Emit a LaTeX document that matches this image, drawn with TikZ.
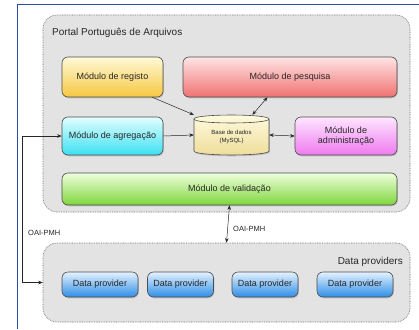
\documentclass[tikz,border=0pt]{standalone}
\usepackage{fontspec}
\setmainfont{Liberation Sans}
\usetikzlibrary{arrows.meta,shadows}
\definecolor{grpfill}{HTML}{E3E3E3}
\definecolor{frameblue}{HTML}{2A4CA8}
\definecolor{regtop}{HTML}{FFF9D8}
\definecolor{regbot}{HTML}{F6C840}
\definecolor{pestop}{HTML}{FFE4E4}
\definecolor{pesbot}{HTML}{F07272}
\definecolor{agrtop}{HTML}{E2FFFF}
\definecolor{agrbot}{HTML}{3CE0F2}
\definecolor{admtop}{HTML}{FFE6FF}
\definecolor{admbot}{HTML}{EE7AEE}
\definecolor{valtop}{HTML}{EEFFDC}
\definecolor{valbot}{HTML}{7ED63C}
\definecolor{dptop}{HTML}{E4F2FF}
\definecolor{dpbot}{HTML}{2E8EE6}
\definecolor{dbtop}{HTML}{FFFBE0}
\definecolor{dbbot}{HTML}{EEDC98}
\begin{document}
\begin{tikzpicture}[x=1pt,y=-1pt,
  font=\fontsize{9}{10.5}\selectfont,
  grp/.style={draw=black!55, dash pattern=on 0.8pt off 0.9pt, line width=0.6pt, fill=grpfill, rounded corners=14pt, inner sep=0pt},
  mod/.style={draw=black!70, line width=0.6pt, rounded corners=6pt, align=center, inner sep=0pt,
    text=black!85, drop shadow={shadow xshift=0.8pt, shadow yshift=-1.3pt, opacity=0.35}},
  arr/.style={-{Stealth[length=4.5pt,width=3.6pt]}, line width=0.5pt, black!85},
  darr/.style={{Stealth[length=4.5pt,width=3.6pt]}-{Stealth[length=4.5pt,width=3.6pt]}, line width=0.5pt, black!85},
  lbl/.style={font=\fontsize{7.5}{9}\selectfont, inner sep=0pt, text=black!85}]
\useasboundingbox[fill=white] (0,0) rectangle (419,329);
% blue frame
\draw[frameblue, line width=1.4pt] (419,4.5) -- (17.5,4.5) -- (17.5,329);
% groups
\node[grp, minimum width=367pt, minimum height=197pt] (ppa) at (226.5,113.5) {};
\node[anchor=west, inner sep=0pt, font=\fontsize{10}{12}\selectfont, text=black!85] (ppat) at (52,33) {Portal Português de Arquivos};
\node[grp, minimum width=367pt, minimum height=79pt] (dpg) at (226.5,282.5) {};
\node[anchor=east, inner sep=0pt, font=\fontsize{10}{12}\selectfont, text=black!85] (dpgt) at (403,262) {Data providers};
% modules
\node[mod, minimum width=101pt, minimum height=40pt, top color=regtop, bottom color=regbot] (reg) at (112.5,77) {Módulo de registo};
\node[mod, minimum width=214pt, minimum height=40pt, top color=pestop, bottom color=pesbot] (pes) at (290,77) {Módulo de pesquisa};
\node[mod, minimum width=101pt, minimum height=38pt, top color=agrtop, bottom color=agrbot] (agr) at (112.5,136) {Módulo de agregação};
\node[mod, minimum width=102pt, minimum height=38pt, top color=admtop, bottom color=admbot] (adm) at (346,136) {Módulo de\\administração};
\node[mod, minimum width=335pt, minimum height=32pt, top color=valtop, bottom color=valbot] (val) at (229.5,189) {Módulo de validação};
% database cylinder
\node[minimum width=75pt, minimum height=40pt, inner sep=0pt] (db) at (231.5,135) {};
\path[draw=black!70, line width=0.6pt, top color=dbtop, bottom color=dbbot,
  drop shadow={shadow xshift=0.8pt, shadow yshift=-1.3pt, opacity=0.35}]
  (194,119) -- (194,151) .. controls (194,156.3) and (269,156.3) .. (269,151)
  -- (269,119) .. controls (269,113.7) and (194,113.7) .. (194,119) -- cycle;
\draw[black!70, line width=0.6pt] (194,119) .. controls (194,124.3) and (269,124.3) .. (269,119);
\node[align=center, inner sep=0pt, font=\fontsize{6}{7.5}\selectfont, text=black!85] (dbt) at (231.5,137) {Base de dados\\(MySQL)};
% data providers
\node[mod, minimum width=76pt, minimum height=25pt, top color=dptop, bottom color=dpbot] (dp1) at (100,284.5) {Data provider};
\node[mod, minimum width=66pt, minimum height=25pt, top color=dptop, bottom color=dpbot] (dp2) at (180.5,284.5) {Data provider};
\node[mod, minimum width=66pt, minimum height=25pt, top color=dptop, bottom color=dpbot] (dp3) at (265,284.5) {Data provider};
\node[mod, minimum width=76pt, minimum height=25pt, top color=dptop, bottom color=dpbot] (dp4) at (355,284.5) {Data provider};
% connectors
\draw[arr] (reg.-27) -- (db.north west);
\draw[darr] (pes.-138) -- (db.44);
\draw[arr] (agr.east) -- (db.west);
\draw[darr] (db.east) -- (adm.west);
\draw[darr] (val.south) -- (dpg.north);
\node[lbl, anchor=west] (oai1) at (233,229) {OAI-PMH};
\coordinate (c1) at (22.5,136);
\draw[darr] (agr.west) -- (c1) |- (dpg.west);
\node[lbl, anchor=west] (oai2) at (28,233) {OAI-PMH};
\end{tikzpicture}
\end{document}
